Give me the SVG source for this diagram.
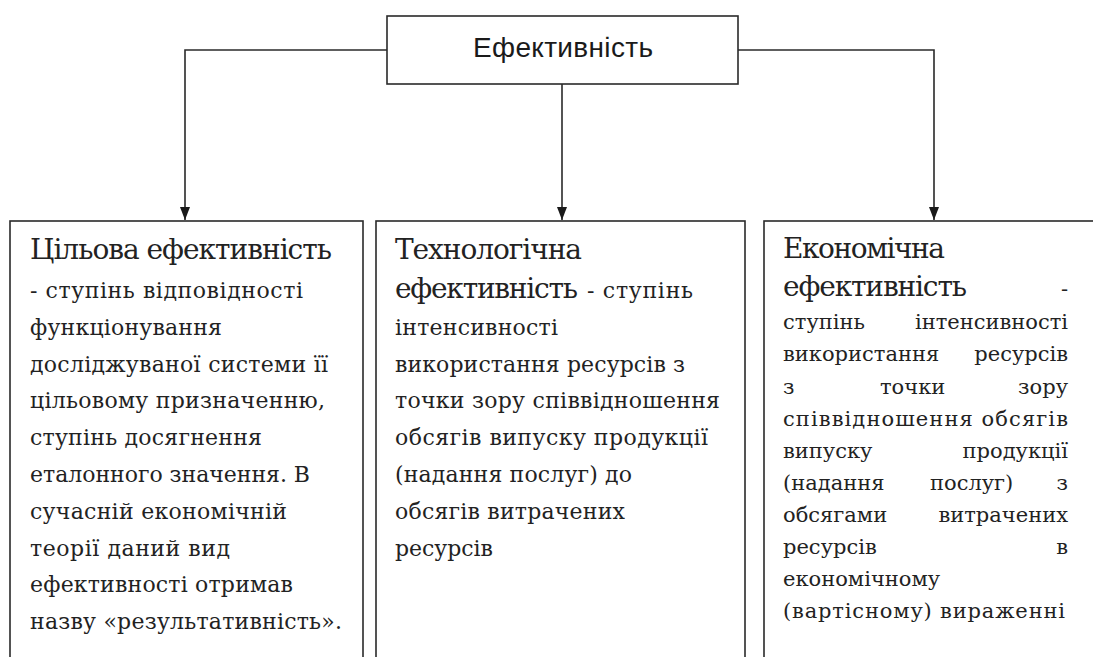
<svg xmlns="http://www.w3.org/2000/svg" width="1093" height="657" viewBox="0 0 1093 657">
<defs>
<style>
.box{fill:#fff;stroke:#2a2a2a;stroke-width:1.6}
.conn{fill:none;stroke:#2a2a2a;stroke-width:1.6}
.t{font-family:"DejaVu Serif","Liberation Serif",serif;fill:#222}
.ti{font-size:28px}
.b{font-size:22px}
.c{font-size:21px}
.head{font-family:"Liberation Sans",Arial,sans-serif;font-size:28px;fill:#1a1a1a}
.e{text-anchor:end}
</style>
<marker id="arr" viewBox="0 0 13 10" refX="13" refY="5" markerWidth="13" markerHeight="10" markerUnits="userSpaceOnUse" orient="auto">
<path d="M0,0 L13,5 L0,10 z" fill="#1a1a1a"/>
</marker>
</defs>
<rect width="1093" height="657" fill="#fff"/>

<g id="connectors">
<path class="conn" d="M387,50 H185 V220" marker-end="url(#arr)"/>
<path class="conn" d="M562,84 V220" marker-end="url(#arr)"/>
<path class="conn" d="M738,50 H934 V220" marker-end="url(#arr)"/>
</g>

<g id="node-efficiency">
<rect class="box" x="387" y="16" width="351" height="68"/>
<text class="head" x="473" y="57" textLength="180">Ефективність</text>
</g>

<g id="node-target">
<rect class="box" x="10" y="221" width="353" height="470"/>
<text class="t ti" x="30" y="259" textLength="302">Цільова ефективність</text>
<text class="t b" x="30" y="298" textLength="273">- ступінь відповідності</text>
<text class="t b" x="30" y="335" textLength="192">функціонування</text>
<text class="t b" x="30" y="372" textLength="298">досліджуваної системи її</text>
<text class="t b" x="30" y="408" textLength="295">цільовому призначенню,</text>
<text class="t b" x="30" y="445" textLength="232">ступінь досягнення</text>
<text class="t b" x="30" y="482" textLength="280">еталонного значення. В</text>
<text class="t b" x="30" y="519" textLength="257">сучасній економічній</text>
<text class="t b" x="30" y="556" textLength="200">теорії даний вид</text>
<text class="t b" x="30" y="592" textLength="263">ефективності отримав</text>
<text class="t b" x="30" y="629" textLength="312">назву «результативність».</text>
</g>

<g id="node-technological">
<rect class="box" x="376" y="221" width="369" height="470"/>
<text class="t ti" x="395" y="259" textLength="187">Технологічна</text>
<text class="t ti" x="395" y="298" textLength="183">ефективність</text>
<text class="t b" x="587" y="298" textLength="106">- ступінь</text>
<text class="t b" x="395" y="335" textLength="163">інтенсивності</text>
<text class="t b" x="395" y="372" textLength="290">використання ресурсів з</text>
<text class="t b" x="395" y="408" textLength="325">точки зору співвідношення</text>
<text class="t b" x="395" y="445" textLength="313">обсягів випуску продукції</text>
<text class="t b" x="395" y="482" textLength="237">(надання послуг) до</text>
<text class="t b" x="395" y="519" textLength="230">обсягів витрачених</text>
<text class="t b" x="395" y="556" textLength="98">ресурсів</text>
</g>

<g id="node-economic">
<rect class="box" x="764" y="221" width="340" height="470"/>
<text class="t ti" x="783" y="258" textLength="162">Економічна</text>
<text class="t ti" x="783" y="296" textLength="184">ефективність</text>
<text class="t c e" x="1068" y="296">-</text>
<text class="t c" x="783" y="329">ступінь</text>
<text class="t c e" x="1068" y="329">інтенсивності</text>
<text class="t c" x="783" y="361">використання</text>
<text class="t c e" x="1068" y="361">ресурсів</text>
<text class="t c" x="783" y="394">з</text>
<text class="t c" x="880" y="394">точки</text>
<text class="t c e" x="1068" y="394">зору</text>
<text class="t c" x="783" y="426" textLength="285">співвідношення обсягів</text>
<text class="t c" x="783" y="458">випуску</text>
<text class="t c e" x="1068" y="458">продукції</text>
<text class="t c" x="783" y="490">(надання</text>
<text class="t c" x="930" y="490">послуг)</text>
<text class="t c e" x="1068" y="490">з</text>
<text class="t c" x="783" y="522">обсягами</text>
<text class="t c e" x="1068" y="522">витрачених</text>
<text class="t c" x="783" y="554">ресурсів</text>
<text class="t c e" x="1068" y="554">в</text>
<text class="t c" x="783" y="586">економічному</text>
<text class="t c" x="783" y="618" textLength="282">(вартісному) вираженні</text>
</g>
</svg>
